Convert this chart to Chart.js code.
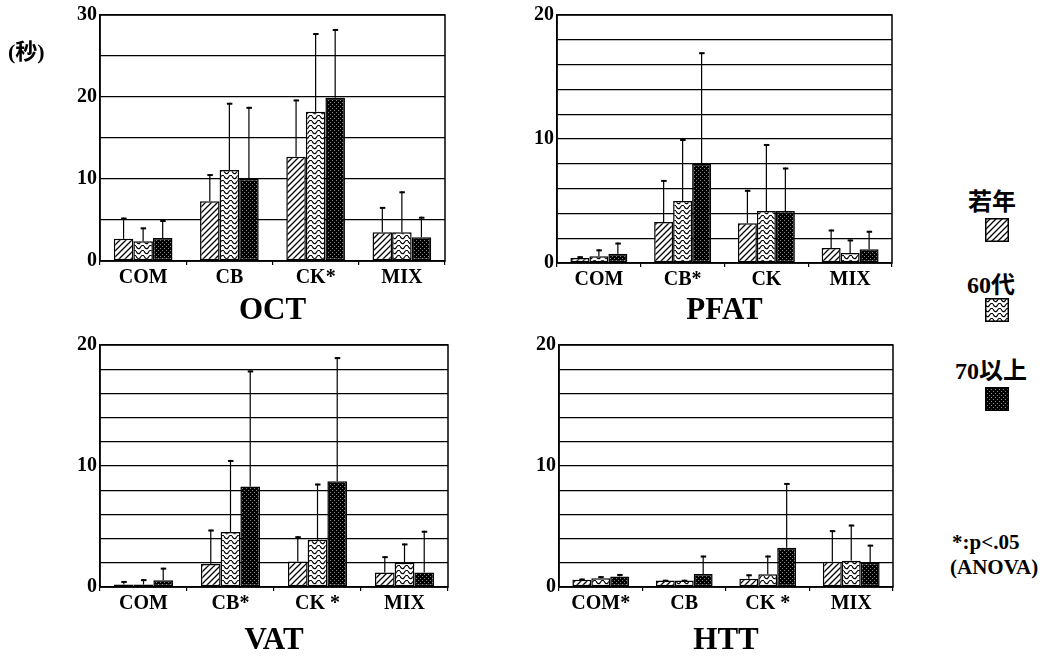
<!DOCTYPE html>
<html>
<head>
<meta charset="utf-8">
<script src="https://cdn.jsdelivr.net/npm/chart.js@4.4.0/dist/chart.umd.min.js"></script>
<style>
  body { margin: 0; background: #fff; }
  #wrap { position: relative; width: 1054px; height: 656px; background: #fff; overflow: hidden; }
  canvas.panel { position: absolute; }
  .txt { position: absolute; font-family: "Liberation Serif", "Noto Sans CJK JP", serif; font-weight: bold; color: #000; white-space: nowrap; line-height: 1; }
  .sw { position: absolute; }
</style>
</head>
<body>
<div id="wrap">
  <canvas id="oct" class="panel" width="460" height="330" style="left:0;top:0"></canvas>
  <canvas id="pfat" class="panel" width="460" height="330" style="left:460px;top:0"></canvas>
  <canvas id="vat" class="panel" width="460" height="326" style="left:0;top:330px"></canvas>
  <canvas id="htt" class="panel" width="460" height="326" style="left:460px;top:330px"></canvas>

  <div class="txt" style="left:8px;top:41px;font-size:22px">(秒)</div>

  <div class="txt" style="left:968px;top:190px;font-size:24px">若年</div>
  <canvas id="sw0" class="sw" width="24" height="24" style="left:985px;top:218px"></canvas>
  <div class="txt" style="left:967px;top:273px;font-size:24px">60代</div>
  <canvas id="sw1" class="sw" width="24" height="24" style="left:985px;top:298px"></canvas>
  <div class="txt" style="left:955px;top:359px;font-size:24px">70以上</div>
  <canvas id="sw2" class="sw" width="24" height="24" style="left:985px;top:387px"></canvas>

  <div class="txt" style="left:952px;top:532px;font-size:21px">*:p&lt;.05</div>
  <div class="txt" style="left:950px;top:557px;font-size:21px">(ANOVA)</div>
</div>

<script>
// groups
const seriesNames = ["若年", "60代", "70以上"];

const octLabels = ["COM", "CB", "CK*", "MIX"];
const octYoung = [2.7, 7.3, 12.7, 3.5];
const oct60 = [2.4, 11.1, 18.2, 3.5];
const oct70 = [2.8, 10.0, 19.9, 2.9];
const octYoungTop = [5.3, 10.6, 19.7, 6.6];
const oct60Top = [4.1, 19.3, 27.8, 8.5];
const oct70Top = [5.0, 18.8, 28.3, 5.4];

const pfatLabels = ["COM", "CB*", "CK", "MIX"];
const pfatYoung = [0.4, 3.3, 3.2, 1.2];
const pfat60 = [0.55, 5.0, 4.2, 0.8];
const pfat70 = [0.75, 8.0, 4.2, 1.1];
const pfatYoungTop = [0.55, 6.7, 5.9, 2.7];
const pfat60Top = [1.1, 10.0, 9.6, 1.9];
const pfat70Top = [1.65, 17.0, 7.7, 2.6];

const vatLabels = ["COM", "CB*", "CK *", "MIX"];
const vatYoung = [0.2, 1.9, 2.1, 1.2];
const vat60 = [0.2, 4.55, 3.9, 2.0];
const vat70 = [0.55, 8.3, 8.75, 1.2];
const vatYoungTop = [0.5, 4.75, 4.2, 2.55];
const vat60Top = [0.65, 10.5, 8.55, 3.6];
const vat70Top = [1.6, 17.9, 19.0, 4.65];

const httLabels = ["COM*", "CB", "CK *", "MIX"];
const httYoung = [0.6, 0.54, 0.68, 2.08];
const htt60 = [0.73, 0.54, 1.05, 2.16];
const htt70 = [0.86, 1.08, 3.24, 2.0];
const httYoungTop = [0.7, 0.6, 1.05, 4.7];
const htt60Top = [0.9, 0.6, 2.6, 5.16];
const htt70Top = [1.08, 2.6, 8.6, 3.5];

// fill tiles
function hatchTile() {
  const c = document.createElement("canvas");
  c.width = 6; c.height = 6;
  const g = c.getContext("2d");
  g.fillStyle = "#fff"; g.fillRect(0, 0, 6, 6);
  g.strokeStyle = "#000"; g.lineWidth = 1.3;
  g.beginPath();
  g.moveTo(-1, 7); g.lineTo(7, -1);
  g.moveTo(-4, 4); g.lineTo(4, -4);
  g.moveTo(2, 10); g.lineTo(10, 2);
  g.stroke();
  return c;
}
function waveTile() {
  const c = document.createElement("canvas");
  c.width = 8; c.height = 5;
  const g = c.getContext("2d");
  g.fillStyle = "#fff"; g.fillRect(0, 0, 8, 5);
  g.strokeStyle = "#000"; g.lineWidth = 1.1;
  g.beginPath();
  g.moveTo(0, 1);
  g.quadraticCurveTo(2, 5, 4, 3);
  g.quadraticCurveTo(6, -1, 8, 1);
  g.stroke();
  return c;
}
function dotTile() {
  const c = document.createElement("canvas");
  c.width = 4; c.height = 4;
  const g = c.getContext("2d");
  g.fillStyle = "#000"; g.fillRect(0, 0, 4, 4);
  g.fillStyle = "#888";
  g.fillRect(0, 0, 1, 1);
  g.fillRect(2, 2, 1, 1);
  return c;
}
const tiles = [hatchTile(), waveTile(), dotTile()];

function fillFor(ctx, i) {
  return ctx.createPattern(tiles[i], "repeat");
}

// legend swatches
tiles.forEach(function (t, i) {
  const c = document.getElementById("sw" + i);
  const g = c.getContext("2d");
  g.fillStyle = g.createPattern(t, "repeat");
  g.fillRect(0, 0, 24, 24);
  g.strokeStyle = "#000"; g.lineWidth = 1.5;
  g.strokeRect(0.75, 0.75, 22.5, 22.5);
});

const errorBars = {
  id: "errorBars",
  afterDatasetsDraw(chart) {
    const ctx = chart.ctx;
    const y = chart.scales.y;
    ctx.save();
    ctx.strokeStyle = "#000";
    chart.data.datasets.forEach(function (ds, i) {
      const meta = chart.getDatasetMeta(i);
      meta.data.forEach(function (bar, j) {
        const top = y.getPixelForValue(ds.errTop[j]);
        if (top >= bar.y) return;
        ctx.lineWidth = 1.2;
        ctx.beginPath();
        ctx.moveTo(bar.x, bar.y);
        ctx.lineTo(bar.x, top);
        ctx.stroke();
        ctx.lineWidth = 2;
        ctx.beginPath();
        ctx.moveTo(bar.x - 2.5, top + 1);
        ctx.lineTo(bar.x + 3, top + 1);
        ctx.stroke();
      });
    });
    ctx.restore();
  },
};

const frame = {
  id: "frame",
  afterDraw(chart) {
    const a = chart.chartArea;
    const ctx = chart.ctx;
    ctx.save();
    ctx.strokeStyle = "#000";
    ctx.lineWidth = 1.5;
    ctx.strokeRect(a.left, a.top, a.right - a.left, a.bottom - a.top);
    ctx.restore();
  },
};

function makePanel(id, labels, vals, tops, max, step, title, lay) {
  const ctx = document.getElementById(id).getContext("2d");
  new Chart(ctx, {
    type: "bar",
    data: {
      labels: labels,
      datasets: vals.map(function (v, i) {
        return {
          label: seriesNames[i],
          data: v,
          errTop: tops[i],
          backgroundColor: fillFor(ctx, i),
          borderColor: "#000",
          borderWidth: 1.5,
          borderSkipped: false,
          categoryPercentage: 0.68,
          barPercentage: 1.0,
        };
      }),
    },
    options: {
      responsive: false,
      animation: false,
      layout: { padding: { left: 0, top: lay.top, right: lay.right, bottom: 0 } },
      plugins: { legend: { display: false }, tooltip: { enabled: false } },
      scales: {
        x: {
          grid: { display: true, drawOnChartArea: false, drawTicks: true, tickLength: 4, color: "#000", lineWidth: 1.2 },
          border: { display: true, color: "#000", width: 1.5 },
          ticks: { color: "#000", padding: 1, font: { family: "Liberation Serif", weight: "bold", size: 20 } },
          title: {
            display: true,
            text: title,
            color: "#000",
            font: { family: "Liberation Serif", weight: "bold", size: 31, lineHeight: 1 },
            padding: { top: 0, bottom: lay.titlePad },
          },
          afterFit: function (s) { s.height = lay.xH; },
        },
        y: {
          min: 0,
          max: max,
          grid: { color: "#000", lineWidth: 1.3, drawTicks: false },
          border: { display: true, color: "#000", width: 1.5 },
          ticks: {
            stepSize: step,
            autoSkip: false,
            padding: 3,
            color: "#000",
            font: { family: "Liberation Serif", weight: "bold", size: 20 },
            callback: function (v) { return v % 10 === 0 ? v : ""; },
          },
          afterFit: function (s) { s.width = lay.yW; },
        },
      },
    },
    plugins: [errorBars, frame],
  });
}

makePanel("oct", octLabels, [octYoung, oct60, oct70], [octYoungTop, oct60Top, oct70Top], 30, 5, "OCT",
  { top: 15, right: 15, yW: 100, xH: 69, titlePad: 4 });
makePanel("pfat", pfatLabels, [pfatYoung, pfat60, pfat70], [pfatYoungTop, pfat60Top, pfat70Top], 20, 2, "PFAT",
  { top: 15, right: 28, yW: 97, xH: 67, titlePad: 4 });
makePanel("vat", vatLabels, [vatYoung, vat60, vat70], [vatYoungTop, vat60Top, vat70Top], 20, 2, "VAT",
  { top: 13, right: 12, yW: 100, xH: 69, titlePad: 0 });
makePanel("htt", httLabels, [httYoung, htt60, htt70], [httYoungTop, htt60Top, htt70Top], 20, 2, "HTT",
  { top: 10, right: 27, yW: 99, xH: 69, titlePad: 0 });
</script>
</body>
</html>
